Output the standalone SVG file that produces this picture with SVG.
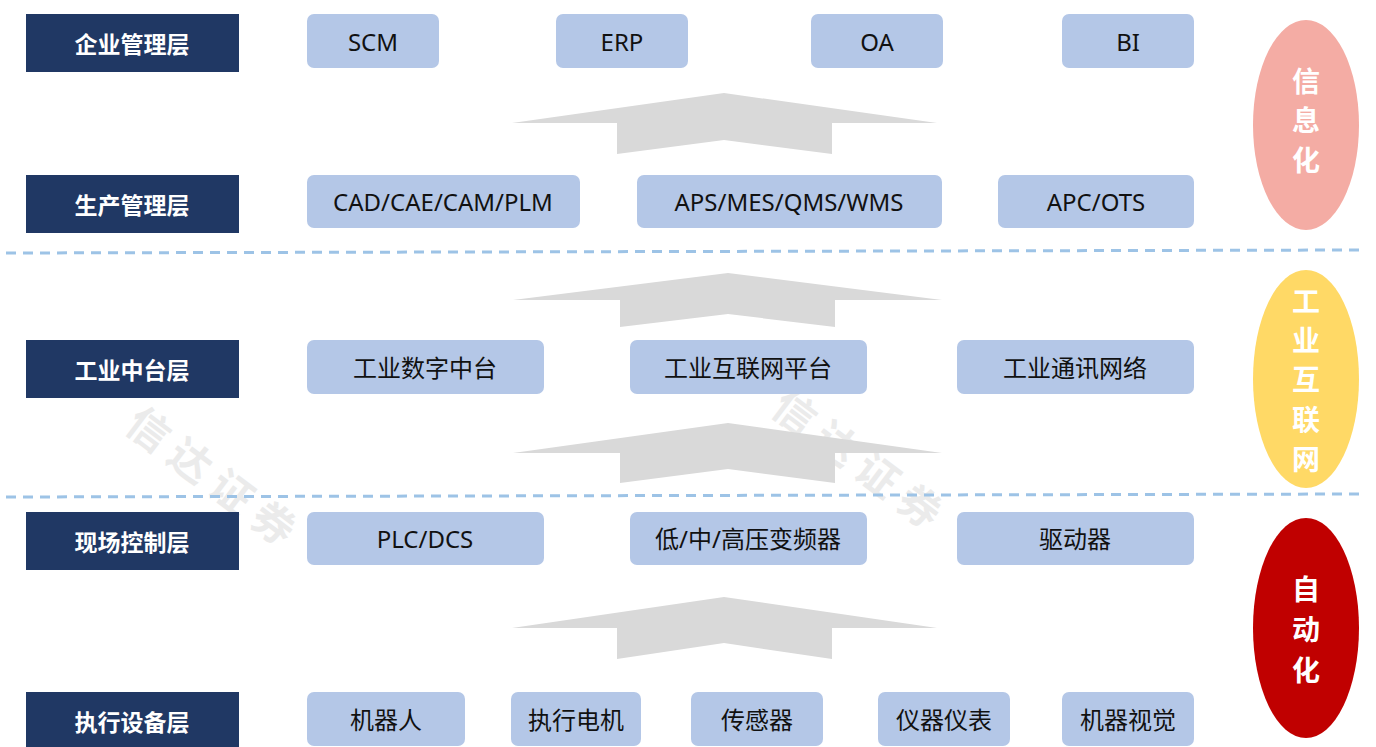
<svg xmlns="http://www.w3.org/2000/svg" width="1376" height="747" viewBox="0 0 1376 747">
<style>
.lbl{fill:#203864}
.lt{fill:#fff;font-family:"Noto Sans CJK SC","Noto Sans",sans-serif;font-weight:bold;font-size:23px;text-anchor:middle;dominant-baseline:central}
.it{fill:#B4C7E7}
.tx{fill:#111;font-family:"Noto Sans","Noto Sans CJK SC",sans-serif;font-size:24px;text-anchor:middle;dominant-baseline:central}
.arr{fill:#D9D9D9}
.dash{stroke:#9DC3E6;stroke-width:3;stroke-dasharray:10 7;fill:none}
.et{fill:#fff;font-family:"Noto Sans CJK SC",sans-serif;font-weight:bold;font-size:28px;text-anchor:middle;dominant-baseline:central}
.wm{fill:#EBEBEB;font-family:"Noto Sans CJK SC",sans-serif;font-weight:bold;font-size:42px;text-anchor:middle;dominant-baseline:central;letter-spacing:10px}
</style>
<rect width="1376" height="747" fill="#fff"/>
<g id="watermarks">
<text class="wm" transform="translate(217,477) rotate(37)">信达证券</text>
<text class="wm" transform="translate(863,460) rotate(37)">信达证券</text>
</g>
<g id="connectors">
<path class="arr" d="M512,123 L724,93 L937,123 L832,123 L832,154 L724,140 L617,154 L617,123 Z"/>
<path class="arr" d="M513,300 L728,273 L942,300 L835,300 L835,327 L728,314 L620,327 L620,300 Z"/>
<path class="arr" d="M513,453 L728,423 L942,453 L835,453 L835,483 L728,469 L620,483 L620,453 Z"/>
<path class="arr" d="M512,628 L724,597 L937,628 L832,628 L832,659 L724,643 L617,659 L617,628 Z"/>
<path class="dash" d="M6,253 L1360,250"/>
<path class="dash" d="M6,497 L1360,494"/>
</g>
<g id="ellipse-info"><ellipse cx="1306" cy="125" rx="53" ry="105" fill="#F4ACA4"/>
<text class="et" x="1306" y="80">信</text><text class="et" x="1306" y="119">息</text><text class="et" x="1306" y="159">化</text></g>
<g id="ellipse-iiot"><ellipse cx="1306" cy="379" rx="53" ry="109" fill="#FFD966"/>
<text class="et" x="1306" y="300">工</text><text class="et" x="1306" y="339">业</text><text class="et" x="1306" y="378">互</text><text class="et" x="1306" y="418">联</text><text class="et" x="1306" y="458">网</text></g>
<g id="ellipse-auto"><ellipse cx="1306" cy="628" rx="53" ry="110" fill="#C00000"/>
<text class="et" x="1306" y="588">自</text><text class="et" x="1306" y="628">动</text><text class="et" x="1306" y="669">化</text></g>
<g id="row1">
<g id="l1"><rect class="lbl" x="26" y="14" width="213" height="58"/><text class="lt" x="132" y="43">企业管理层</text></g>
<g id="scm"><rect class="it" x="307" y="14" width="132" height="54" rx="7"/><text class="tx" x="373" y="41">SCM</text></g>
<g id="erp"><rect class="it" x="556" y="14" width="132" height="54" rx="7"/><text class="tx" x="622" y="41">ERP</text></g>
<g id="oa"><rect class="it" x="811" y="14" width="132" height="54" rx="7"/><text class="tx" x="877" y="41">OA</text></g>
<g id="bi"><rect class="it" x="1062" y="14" width="132" height="54" rx="7"/><text class="tx" x="1128" y="41">BI</text></g>
</g>
<g id="row2">
<g id="l2"><rect class="lbl" x="26" y="175" width="213" height="58"/><text class="lt" x="132" y="204">生产管理层</text></g>
<g id="cad"><rect class="it" x="307" y="175" width="273" height="53" rx="7"/><text class="tx" x="443" y="201">CAD/CAE/CAM/PLM</text></g>
<g id="aps"><rect class="it" x="637" y="175" width="305" height="53" rx="7"/><text class="tx" x="789" y="201">APS/MES/QMS/WMS</text></g>
<g id="apc"><rect class="it" x="998" y="175" width="196" height="53" rx="7"/><text class="tx" x="1096" y="201">APC/OTS</text></g>
</g>
<g id="row3">
<g id="l3"><rect class="lbl" x="26" y="340" width="213" height="58"/><text class="lt" x="132" y="369">工业中台层</text></g>
<g id="szzt"><rect class="it" x="307" y="340" width="237" height="54" rx="7"/><text class="tx" x="425" y="367">工业数字中台</text></g>
<g id="hlw"><rect class="it" x="630" y="340" width="237" height="54" rx="7"/><text class="tx" x="748" y="367">工业互联网平台</text></g>
<g id="txwl"><rect class="it" x="957" y="340" width="237" height="54" rx="7"/><text class="tx" x="1075" y="367">工业通讯网络</text></g>
</g>
<g id="row4">
<g id="l4"><rect class="lbl" x="26" y="512" width="213" height="58"/><text class="lt" x="132" y="541">现场控制层</text></g>
<g id="plc"><rect class="it" x="307" y="512" width="237" height="53" rx="7"/><text class="tx" x="425" y="538">PLC/DCS</text></g>
<g id="bpq"><rect class="it" x="630" y="512" width="237" height="53" rx="7"/><text class="tx" x="748" y="538">低/中/高压变频器</text></g>
<g id="qdq"><rect class="it" x="957" y="512" width="237" height="53" rx="7"/><text class="tx" x="1075" y="538">驱动器</text></g>
</g>
<g id="row5">
<g id="l5"><rect class="lbl" x="26" y="692" width="213" height="58"/><text class="lt" x="132" y="721">执行设备层</text></g>
<g id="jqr"><rect class="it" x="307" y="692" width="158" height="54" rx="7"/><text class="tx" x="386" y="719">机器人</text></g>
<g id="dj"><rect class="it" x="511" y="692" width="130" height="54" rx="7"/><text class="tx" x="576" y="719">执行电机</text></g>
<g id="cgq"><rect class="it" x="691" y="692" width="132" height="54" rx="7"/><text class="tx" x="757" y="719">传感器</text></g>
<g id="yqyb"><rect class="it" x="878" y="692" width="132" height="54" rx="7"/><text class="tx" x="944" y="719">仪器仪表</text></g>
<g id="jqsj"><rect class="it" x="1062" y="692" width="132" height="54" rx="7"/><text class="tx" x="1128" y="719">机器视觉</text></g>
</g>
</svg>
